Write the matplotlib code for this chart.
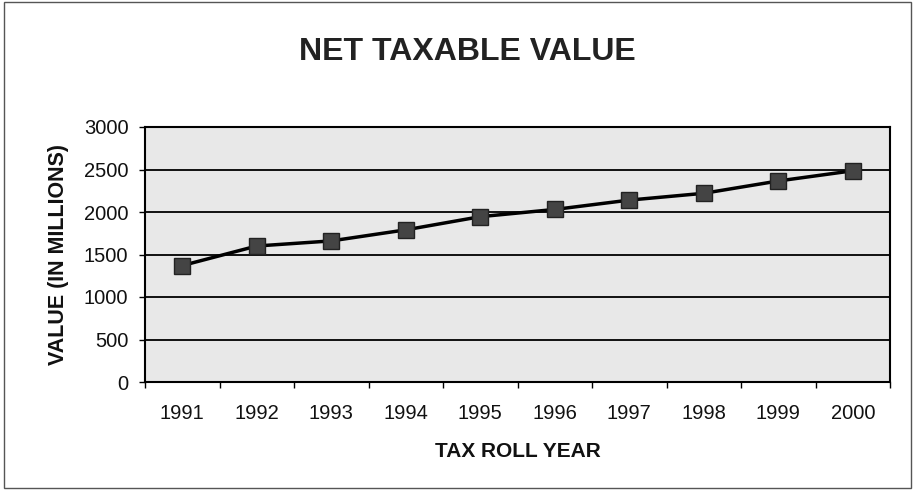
import numpy as np
import matplotlib.pyplot as plt
from matplotlib.patches import Rectangle
from matplotlib.ticker import FixedLocator, NullFormatter

plt.rcParams['font.family'] = ['Liberation Sans', 'DejaVu Sans']

years = ['1991', '1992', '1993', '1994', '1995', '1996', '1997', '1998', '1999', '2000']
values = [1370, 1600, 1660, 1790, 1945, 2030, 2140, 2220, 2365, 2485]
yticks = [0, 500, 1000, 1500, 2000, 2500, 3000]

fig = plt.figure(figsize=(9.14, 5.0), dpi=100)
ax = fig.add_axes([145/914, 1-382/500, 745/914, 255/500])
ax.set_facecolor('#e8e8e8')

x = np.arange(len(years))
ax.plot(x, values, color='black', lw=2.5, marker='s', markersize=11,
        markerfacecolor='#444444', markeredgecolor='#222222', zorder=3)

ax.set_xlim(-0.5, len(years)-0.5)
ax.set_ylim(0, 3000)
ax.set_yticks(yticks)
ax.set_yticklabels([str(v) for v in yticks], fontsize=14.5, color='#111111')
ax.yaxis.grid(True, color='black', lw=1.3)
ax.set_axisbelow(True)

# category labels centred, tick marks between categories
ax.xaxis.set_major_locator(FixedLocator(np.arange(-0.5, len(years), 1.0)))
ax.xaxis.set_major_formatter(NullFormatter())
ax.xaxis.set_minor_locator(FixedLocator(x))
ax.set_xticklabels(years, minor=True, fontsize=14.5, color='#111111')
ax.tick_params(axis='x', which='minor', length=0, pad=16)
ax.tick_params(axis='x', which='major', length=4, width=1, direction='out')
ax.tick_params(axis='y', length=4, width=1, direction='out', pad=8)

for s in ax.spines.values():
    s.set_color('black')
    s.set_linewidth(1.5)

ax.set_xlabel('TAX ROLL YEAR', fontsize=15, fontweight='bold', color='#111111')
ax.set_ylabel('VALUE (IN MILLIONS)', fontsize=15.5, fontweight='bold', color='#111111')
ax.xaxis.set_label_coords(0.5, -0.237)
ax.yaxis.set_label_coords(-0.102, 0.5)
fig.text(467/914, 1-52/500, 'NET TAXABLE VALUE', fontsize=23, fontweight='bold',
         ha='center', va='center', color='#222222')

fig.patches.append(Rectangle((4/914, 1-488/500), 907/914, 486/500, transform=fig.transFigure,
                             fill=False, edgecolor='#555555', lw=1))

plt.savefig('out.png', dpi=100)
